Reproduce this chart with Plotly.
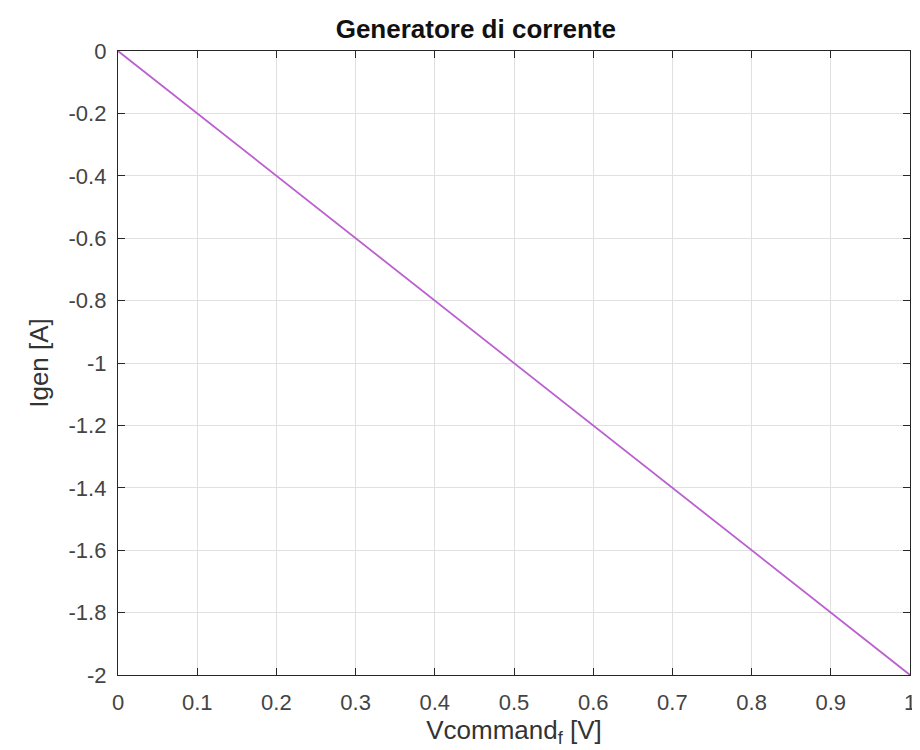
import plotly.graph_objects as go

vcommand = [0.0, 0.5, 1.0]
igen = [0.0, -1.0, -2.0]

x_ticks = [0, 0.1, 0.2, 0.3, 0.4, 0.5, 0.6, 0.7, 0.8, 0.9, 1]
x_tick_labels = ["0", "0.1", "0.2", "0.3", "0.4", "0.5", "0.6", "0.7", "0.8", "0.9", "1"]
y_ticks = [0, -0.2, -0.4, -0.6, -0.8, -1, -1.2, -1.4, -1.6, -1.8, -2]
y_tick_labels = ["0", "-0.2", "-0.4", "-0.6", "-0.8", "-1", "-1.2", "-1.4", "-1.6", "-1.8", "-2"]

FONT = "Liberation Sans, Arial, Helvetica"

fig = go.Figure()
fig.add_trace(go.Scatter(x=vcommand, y=igen, mode="lines",
                         line=dict(color="#bb60cf", width=1.8), showlegend=False))

axis_common = dict(showgrid=True, gridcolor="#e0e0e0", gridwidth=1,
                   showline=True, linecolor="#262626", linewidth=1.3, mirror="ticks",
                   ticks="inside", ticklen=7, tickcolor="#262626",
                   zeroline=False,
                   tickfont=dict(family=FONT, size=22, color="#444444"))

fig.update_xaxes(range=[0, 1], tickvals=x_ticks, ticktext=x_tick_labels,
                 ticklabelstandoff=7,
                 title=dict(text="Vcommand<sub>f</sub> [V]", standoff=4,
                            font=dict(family=FONT, size=26, color="#333333")),
                 **axis_common)
fig.update_yaxes(range=[-2, 0], tickvals=y_ticks, ticktext=y_tick_labels,
                 ticklabelstandoff=6,
                 title=dict(text="Igen [A]", standoff=12,
                            font=dict(family=FONT, size=26, color="#333333")),
                 **axis_common)

fig.update_layout(
    width=920, height=750,
    margin=dict(l=110, r=14, t=43, b=83),
    paper_bgcolor="white", plot_bgcolor="white",
    title=dict(text="<b>Generatore di corrente</b>", x=0.5085, xanchor="center",
               y=1 - 21 / 750, yanchor="middle",
               font=dict(family=FONT, size=26, color="#111111")),
)

fig.write_html("out.html")
